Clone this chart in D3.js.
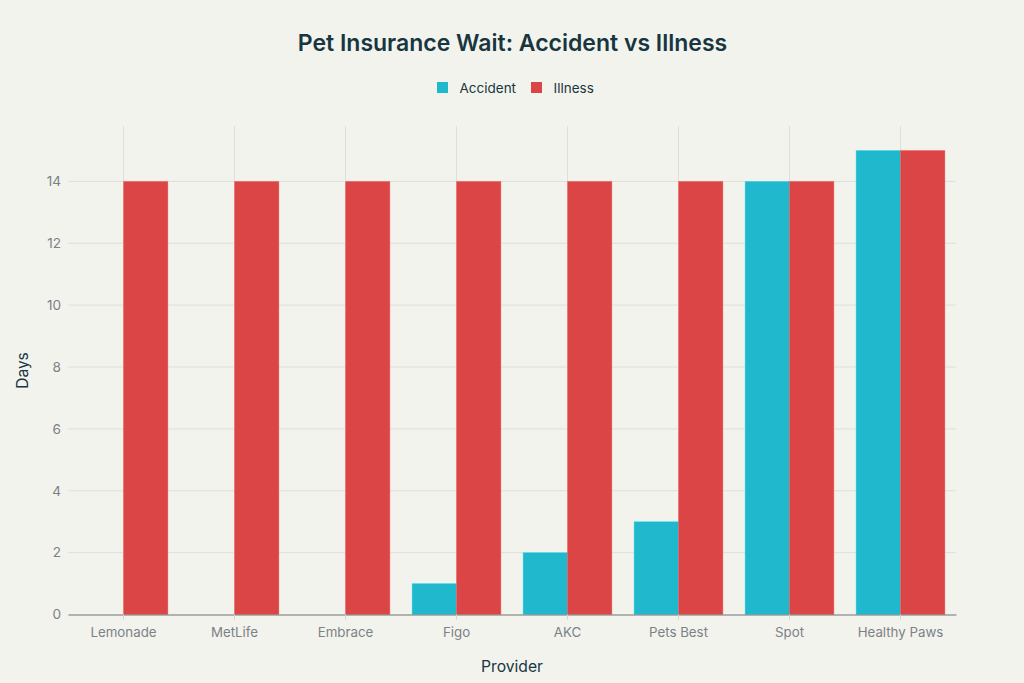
<!DOCTYPE html>
<html>
<head>
<meta charset="utf-8">
<script src="https://cdn.jsdelivr.net/npm/d3@7"></script>
<style>
html, body { margin: 0; padding: 0; background: #f3f3ee; }
svg { display: block; }
text { font-family: Inter, "Liberation Sans", sans-serif; }
</style>
</head>
<body>
<div id="chart"></div>
<script>
var providers = ["Lemonade", "MetLife", "Embrace", "Figo", "AKC", "Pets Best", "Spot", "Healthy Paws"];
var accident = [0, 0, 0, 1, 2, 3, 14, 15];
var illness = [14, 14, 14, 14, 14, 14, 14, 15];
var seriesNames = ["Accident", "Illness"];
var seriesColors = ["#1fb8cd", "#db4545"];
var yTicks = [0, 2, 4, 6, 8, 10, 12, 14];

var width = 1024, height = 683;
var left = 68, right = 956, top_ = 126, bottom = 614.5;

var svg = d3.select("#chart").append("svg")
    .attr("width", width)
    .attr("height", height);

var x = d3.scaleBand().domain(providers).range([left, right]);
var y = d3.scaleLinear().domain([0, 15.79]).range([bottom, top_]);
var barW = x.bandwidth() * 0.4;

//////////////////////////////////////////////////////////////////////////////
// gridlines

svg.append("g").selectAll("line")
    .data(providers)
    .enter().append("line")
    .attr("x1", function(d) { return x(d) + x.bandwidth() / 2; })
    .attr("x2", function(d) { return x(d) + x.bandwidth() / 2; })
    .attr("y1", top_)
    .attr("y2", bottom)
    .attr("stroke", "#dfdfda")
    .attr("stroke-width", 1);

svg.append("g").selectAll("line")
    .data(yTicks.slice(1))
    .enter().append("line")
    .attr("x1", left)
    .attr("x2", right)
    .attr("y1", function(d) { return y(d); })
    .attr("y2", function(d) { return y(d); })
    .attr("stroke", "#dfdfda")
    .attr("stroke-width", 1);

//////////////////////////////////////////////////////////////////////////////
// bars

function drawBars(values, color, offset) {
    svg.append("g").selectAll("rect")
        .data(values)
        .enter().append("rect")
        .attr("x", function(d, i) { return x(providers[i]) + x.bandwidth() / 2 + offset; })
        .attr("y", function(d) { return y(d); })
        .attr("width", barW)
        .attr("height", function(d) { return bottom - y(d); })
        .attr("fill", color)
        .attr("stroke", d3.color(color).brighter(0.6))
        .attr("stroke-opacity", function(d) { return d > 0 ? 0.5 : 0; })
        .attr("stroke-width", 0.7);
}

drawBars(accident, seriesColors[0], -barW);
drawBars(illness, seriesColors[1], 0);

//////////////////////////////////////////////////////////////////////////////
// axes

var xAxis = svg.append("g")
    .attr("transform", "translate(0," + bottom + ")")
    .call(d3.axisBottom(x).tickSizeInner(5).tickSizeOuter(0).tickPadding(8));
xAxis.select(".domain").attr("stroke", "#6f7472").attr("stroke-width", 1.2);
xAxis.selectAll(".tick line").attr("stroke", "#d4d4d0");
xAxis.selectAll("text")
    .attr("fill", "#7b8285")
    .style("font-size", "13.3px");

var yAxis = svg.append("g")
    .attr("transform", "translate(" + left + ",0)")
    .call(d3.axisLeft(y).tickValues(yTicks).tickSize(0).tickPadding(7));
yAxis.select(".domain").remove();
yAxis.selectAll("text")
    .attr("fill", "#7b8285")
    .style("font-size", "13.6px");

//////////////////////////////////////////////////////////////////////////////
// titles and legend

svg.append("text")
    .attr("x", 512.5)
    .attr("y", 51)
    .attr("text-anchor", "middle")
    .attr("fill", "#17363f")
    .style("font-size", "23px")
    .style("font-weight", 600)
    .text("Pet Insurance Wait: Accident vs Illness");

svg.append("text")
    .attr("x", 512)
    .attr("y", 671.5)
    .attr("text-anchor", "middle")
    .attr("fill", "#17363f")
    .style("font-size", "15.7px")
    .text("Provider");

svg.append("text")
    .attr("transform", "translate(28,370.5) rotate(-90)")
    .attr("text-anchor", "middle")
    .attr("fill", "#17363f")
    .style("font-size", "15.5px")
    .text("Days");

var legendX = [437, 531];
var legend = svg.append("g").selectAll("g")
    .data(seriesNames)
    .enter().append("g")
    .attr("transform", function(d, i) { return "translate(" + legendX[i] + ",82)"; });
legend.append("rect")
    .attr("width", 11)
    .attr("height", 11)
    .attr("fill", function(d, i) { return seriesColors[i]; });
legend.append("text")
    .attr("x", 22.5)
    .attr("y", 10.5)
    .attr("fill", "#17363f")
    .style("font-size", "13.5px")
    .text(function(d) { return d; });
</script>
</body>
</html>
